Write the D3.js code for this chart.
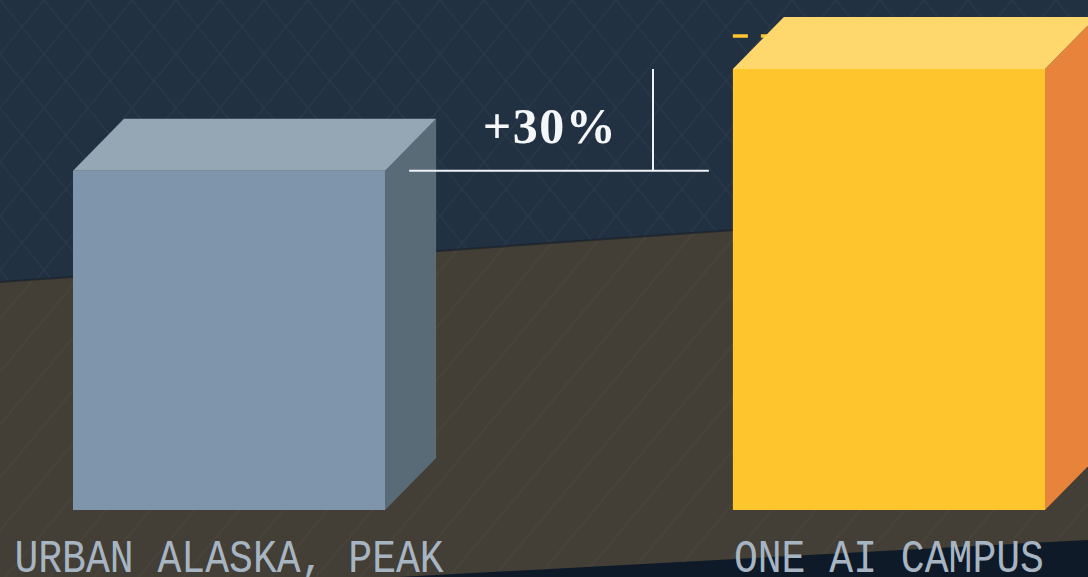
<!DOCTYPE html>
<html>
<head>
<meta charset="utf-8">
<script src="https://cdn.jsdelivr.net/npm/d3@7"></script>
<style>
  html, body { margin: 0; padding: 0; background: #223142; }
  svg { display: block; }
</style>
</head>
<body>
<div id="chart"></div>
<script>
const categories = ["URBAN ALASKA, PEAK", "ONE AI CAMPUS"];
const values = [100, 130];
const frontColors = ["#7f95ab", "#fec52d"];
const topColors = ["#95a7b5", "#fed86c"];
const sideColors = ["#5a6b78", "#e8833b"];

const width = 1088;
const height = 577;
const depth = {dx: 51, dy: 52};

const svg = d3.select("#chart").append("svg")
  .attr("width", width)
  .attr("height", height);

const defs = svg.append("defs");

// diamond lattice on the wall
const lattice = defs.append("pattern")
  .attr("id", "lattice")
  .attr("patternUnits", "userSpaceOnUse")
  .attr("width", 44)
  .attr("height", 54);
lattice.append("path")
  .attr("d", "M0,0 L44,54 M44,0 L0,54")
  .attr("stroke", "rgba(140,170,200,0.06)")
  .attr("stroke-width", 1.2)
  .attr("fill", "none");

// slanted stripes on the floor
const stripes = defs.append("pattern")
  .attr("id", "stripes")
  .attr("patternUnits", "userSpaceOnUse")
  .attr("width", 34)
  .attr("height", 34)
  .attr("patternTransform", "rotate(40)");
stripes.append("line")
  .attr("x1", 1).attr("y1", 0)
  .attr("x2", 1).attr("y2", 34)
  .attr("stroke", "rgba(255,255,255,0.045)")
  .attr("stroke-width", 1);

svg.append("rect")
  .attr("width", width)
  .attr("height", height)
  .attr("fill", "#223142");
svg.append("rect")
  .attr("width", width)
  .attr("height", height)
  .attr("fill", "url(#lattice)");

const floorPts = [[0, 282], [width, 205], [width, height], [0, height]];
svg.append("polygon")
  .attr("points", floorPts.join(" "))
  .attr("fill", "#433e36");
svg.append("polygon")
  .attr("points", floorPts.join(" "))
  .attr("fill", "url(#stripes)");
svg.append("line")
  .attr("x1", 0).attr("y1", 282)
  .attr("x2", width).attr("y2", 205)
  .attr("stroke", "rgba(20,28,36,0.55)")
  .attr("stroke-width", 2);

// dark strip at the bottom right
svg.append("polygon")
  .attr("points", [[380, 578], [width, 540], [width, height]].join(" "))
  .attr("fill", "#0e1a27");

const x = d3.scaleBand()
  .domain(categories)
  .range([73, 1045])
  .paddingInner(0.527)
  .paddingOuter(0);

const y = d3.scaleLinear()
  .domain([0, 130])
  .range([510, 69]);

// yellow dashed marker behind the tall bar
svg.append("line")
  .attr("x1", x(categories[1]))
  .attr("x2", x(categories[1]) + 80)
  .attr("y1", 36).attr("y2", 36)
  .attr("stroke", "#fec52d")
  .attr("stroke-width", 3.5)
  .attr("stroke-dasharray", "15,13");

const bars = svg.selectAll(".bar")
  .data(values)
  .enter()
  .append("g")
  .attr("class", "bar");

bars.append("polygon")
  .attr("points", (d, i) => {
    const x0 = x(categories[i]) + x.bandwidth();
    return [[x0, y(d)], [x0 + depth.dx, y(d) - depth.dy],
      [x0 + depth.dx, y(0) - depth.dy], [x0, y(0)]].join(" ");
  })
  .attr("fill", (d, i) => sideColors[i]);

bars.append("polygon")
  .attr("points", (d, i) => {
    const x0 = x(categories[i]);
    const x1 = x0 + x.bandwidth();
    return [[x0, y(d)], [x0 + depth.dx, y(d) - depth.dy],
      [x1 + depth.dx, y(d) - depth.dy], [x1, y(d)]].join(" ");
  })
  .attr("fill", (d, i) => topColors[i]);

bars.append("rect")
  .attr("x", (d, i) => x(categories[i]))
  .attr("y", (d) => y(d))
  .attr("width", x.bandwidth())
  .attr("height", (d) => y(0) - y(d))
  .attr("fill", (d, i) => frontColors[i]);

// difference annotation
const diffX = 653;
svg.append("line")
  .attr("x1", x(categories[0]) + x.bandwidth() + 24)
  .attr("x2", x(categories[1]) - 24)
  .attr("y1", y(values[0])).attr("y2", y(values[0]))
  .attr("stroke", "#eef2f6")
  .attr("stroke-width", 2);
svg.append("line")
  .attr("x1", diffX).attr("x2", diffX)
  .attr("y1", y(values[1])).attr("y2", y(values[0]))
  .attr("stroke", "#eef2f6")
  .attr("stroke-width", 2);

svg.append("text")
  .attr("x", 550)
  .attr("y", 143)
  .attr("text-anchor", "middle")
  .attr("fill", "#f4f6f8")
  .style("font-family", "'Liberation Serif', serif")
  .style("font-weight", "bold")
  .style("font-size", "50px")
  .style("letter-spacing", "1.5px")
  .text(d3.format("+.0%")(values[1] / values[0] - 1));

// category labels
svg.selectAll(".label")
  .data(categories)
  .enter()
  .append("text")
  .attr("class", "label")
  .attr("x", (d) => x(d) + x.bandwidth() / 2)
  .attr("y", 572)
  .attr("text-anchor", "middle")
  .attr("textLength", (d) => d.length * 23.85)
  .attr("lengthAdjust", "spacingAndGlyphs")
  .attr("fill", "#a7b5c3")
  .style("font-family", "'Liberation Mono', monospace")
  .style("font-size", "47px")
  .text((d) => d);
</script>
</body>
</html>
